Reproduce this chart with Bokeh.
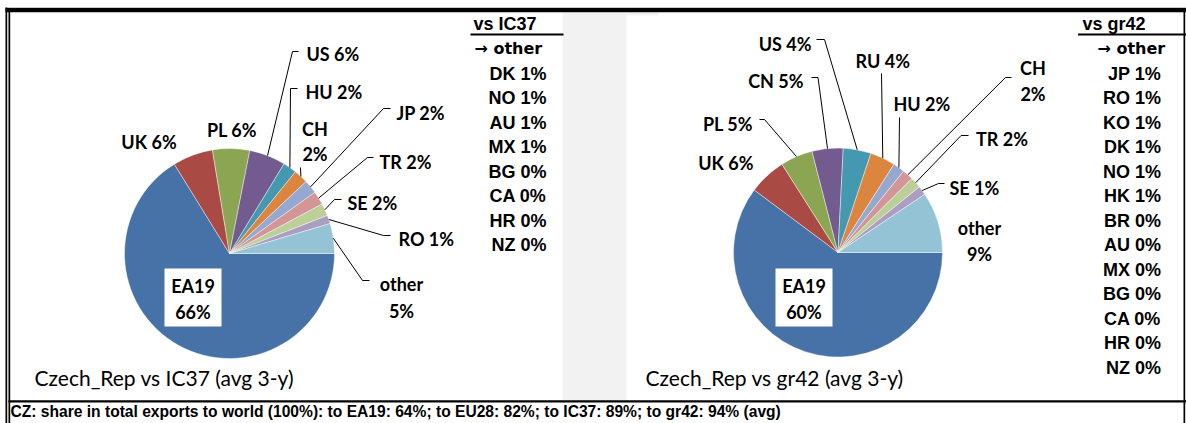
from bokeh.plotting import figure
from bokeh.models import Range1d, ColumnDataSource
from bokeh.core.properties import value
from bokeh.embed import file_html
from bokeh.resources import INLINE
import math

# ---------------- data ----------------
left_group = "IC37"
right_group = "gr42"
left_names = ["EA19", "UK", "PL", "US", "HU", "CH", "JP", "TR", "SE", "RO", "other"]
left_shares = [66.2, 6.2, 5.7, 5.6, 2.1, 2.2, 2.1, 2.1, 1.9, 1.3, 4.6]
right_names = ["EA19", "UK", "PL", "CN", "US", "RU", "HU", "CH", "TR", "SE", "other"]
right_shares = [60.2, 5.8, 5.0, 4.8, 4.3, 3.9, 1.8, 1.7, 1.7, 1.4, 9.4]
slice_colors = ["#4672A8", "#A94A45", "#8BA552", "#735A8F", "#4499B0", "#DC853E",
                "#95A9D0", "#D39595", "#BBCF99", "#AB9EC0", "#93C3D5"]
left_other_names = ["DK", "NO", "AU", "MX", "BG", "CA", "HR", "NZ"]
left_other_shares = [1, 1, 1, 1, 0, 0, 0, 0]
right_other_names = ["JP", "RO", "KO", "DK", "NO", "HK", "BR", "AU", "MX", "BG", "CA", "HR", "NZ"]
right_other_shares = [1, 1, 1, 1, 1, 1, 0, 0, 0, 0, 0, 0, 0]
world_groups = ["EA19", "EU28", "IC37", "gr42"]
world_shares = [64, 82, 89, 94]
country = "CZ"
country_long = "Czech_Rep"

# ---------------- layout (page pixels) ----------------
W, H = 1186, 423
def Y(v):
    return H - v

p = figure(width=W, height=H, x_range=Range1d(0, W), y_range=Range1d(0, H),
           output_backend="svg", toolbar_location=None, x_axis_type=None, y_axis_type=None,
           min_border=0, background_fill_color="white", border_fill_color="white")
p.grid.visible = False
p.outline_line_color = None

LBL = dict(text_font=value("Lato"), text_font_style="bold", text_font_size="18px",
           text_color="black", text_baseline="middle")
TBL = dict(text_font=value("Liberation Sans"), text_font_style="bold", text_font_size="18px",
           text_color="black", text_baseline="middle")

# grey separator between panels
p.quad(left=[562, 626], right=[626, 658], bottom=[Y(400), Y(15)], top=[Y(12), Y(12)],
       fill_color="#f2f2f2", line_color=None)

# frame
p.quad(left=[5], right=[W], top=[Y(6.5)], bottom=[Y(7.5)], fill_color="#c8c8c8", line_color=None)
p.quad(left=[5], right=[W], top=[Y(7.5)], bottom=[Y(11.7)], fill_color="black", line_color=None)
p.quad(left=[5, 8, 1183], right=[6.7, 9.7, 1184.7], top=[Y(7), Y(11), Y(11)],
       bottom=[Y(430), Y(430), Y(430)], fill_color="black", line_color=None)
p.quad(left=[8], right=[W], top=[Y(399.7)], bottom=[Y(402)], fill_color="black", line_color=None)


def draw_pie(cx, cy, r, names, shares, layout):
    total = float(sum(shares))
    starts, ends, mids = [], [], []
    cum = 0.0
    for s in shares:
        a0 = -cum / total * 2 * math.pi
        cum += s
        a1 = -cum / total * 2 * math.pi
        starts.append(a1)
        ends.append(a0)
        mids.append((a0 + a1) / 2)
    src = ColumnDataSource(dict(start=starts, end=ends, color=slice_colors[:len(shares)]))
    p.wedge(x=cx, y=Y(cy), radius=r, start_angle="start", end_angle="end",
            fill_color="color", line_color="white", line_width=0.6, line_alpha=0.7, source=src)
    lx, ly = [], []
    for name, s, m in zip(names, shares, mids):
        spec = layout[name]
        pct = f"{round(s)}%"
        if spec.get("box"):
            x0, x1, y0, y1 = spec["box"]
            p.quad(left=[x0], right=[x1], top=[Y(y0)], bottom=[Y(y1)], fill_color="white", line_color=None)
        if spec.get("two"):
            p.text(x=[spec["x"], spec["x"]], y=[Y(spec["y"][0]), Y(spec["y"][1])], text=[name, pct],
                   text_align=spec["align"], **LBL)
        else:
            p.text(x=[spec["x"]], y=[Y(spec["y"])], text=[f"{name} {pct}"], text_align=spec["align"], **LBL)
        if spec.get("elbow"):
            px = cx + r * math.cos(m)
            py = Y(cy) + r * math.sin(m)
            xs = [px, spec["elbow"][0]]
            ys = [py, Y(spec["elbow"][1])]
            if spec.get("tick"):
                xs.append(spec["tick"][0])
                ys.append(Y(spec["tick"][1]))
            lx.append(xs)
            ly.append(ys)
    p.multi_line(xs=lx, ys=ly, line_color="black", line_width=1)


left_layout = {
    "EA19": dict(box=(164, 221, 268, 326), two=True, x=192.5, y=(285, 311), align="center"),
    "UK": dict(x=148.5, y=141, align="center"),
    "PL": dict(x=231.5, y=129, align="center"),
    "US": dict(x=306, y=53, align="left", elbow=(292, 51), tick=(298, 51)),
    "HU": dict(x=305, y=91, align="left", elbow=(290, 88), tick=(297, 88)),
    "CH": dict(two=True, x=314.5, y=(128, 153), align="center", elbow=(300, 167)),
    "JP": dict(x=396, y=112, align="left", elbow=(383, 108), tick=(390, 108)),
    "TR": dict(x=379, y=161, align="left", elbow=(367, 157), tick=(373, 157)),
    "SE": dict(x=347, y=202, align="left", elbow=(334, 199), tick=(341, 199)),
    "RO": dict(x=398, y=238, align="left", elbow=(383, 235), tick=(390, 235)),
    "other": dict(two=True, x=401, y=(283, 310), align="center", elbow=(362, 280), tick=(369, 280)),
}
right_layout = {
    "EA19": dict(box=(775, 832, 268, 326), two=True, x=803.5, y=(285, 311), align="center"),
    "UK": dict(x=753, y=162, align="right"),
    "PL": dict(x=752.5, y=123, align="right", elbow=(764, 119), tick=(759, 119)),
    "CN": dict(x=803, y=80, align="right", elbow=(817.5, 77), tick=(811, 77)),
    "US": dict(x=811, y=43, align="right", elbow=(824, 39), tick=(816, 39)),
    "RU": dict(x=855, y=60, align="left", elbow=(881, 73)),
    "HU": dict(x=893, y=103, align="left", elbow=(899, 117)),
    "CH": dict(two=True, x=1032.5, y=(67, 93), align="center", elbow=(1005, 77), tick=(1011, 77)),
    "TR": dict(x=975.5, y=138, align="left", elbow=(960.6, 135), tick=(968, 135)),
    "SE": dict(x=949, y=187, align="left", elbow=(938, 183), tick=(944, 183)),
    "other": dict(two=True, x=979, y=(227, 253), align="center"),
}

draw_pie(229, 253, 105, left_names, left_shares, left_layout)
draw_pie(837.5, 252, 104.5, right_names, right_shares, right_layout)


def draw_table(hx, underline, ax, rx, group, names, shares):
    p.text(x=[hx], y=[Y(23)], text=[f"vs {group}"], text_align="left", **TBL)
    p.quad(left=[underline[0]], right=[underline[1]], top=[Y(33)], bottom=[Y(35)],
           fill_color="black", line_color=None)
    p.text(x=[ax], y=[Y(48)], text=["\u2192 other"], text_align="left",
           **{**TBL, "text_font": value("DejaVu Sans"), "text_font_size": "16px"})
    ys = [Y(73 + 24.5 * i) for i in range(len(names))]
    p.text(x=[rx] * len(names), y=ys, text=[f"{n} {s}%" for n, s in zip(names, shares)],
           text_align="right", **TBL)


draw_table(473, (470, 563), 474, 546, left_group, left_other_names, left_other_shares)
draw_table(1082, (1077.6, W), 1097, 1160.5, right_group, right_other_names, right_other_shares)

# sub titles
SUB = dict(text_font=value("Lato"), text_font_size="21px", text_color="black", text_baseline="middle",
           text_align="left")
p.text(x=[34, 645], y=[Y(377), Y(377)],
       text=[f"{country_long} vs {left_group} (avg 3-y)", f"{country_long} vs {right_group} (avg 3-y)"], **SUB)

# footer
footer = f"{country}: share in total exports to world (100%): " + "; ".join(
    f"to {g}: {s}%" for g, s in zip(world_groups, world_shares)) + " (avg)"
p.text(x=[10], y=[Y(411)], text=[footer], text_font=value("Liberation Sans"), text_font_style="bold",
       text_font_size="15.6px", text_color="black", text_baseline="middle", text_align="left")

open("out.html", "w").write(file_html(p, INLINE))
